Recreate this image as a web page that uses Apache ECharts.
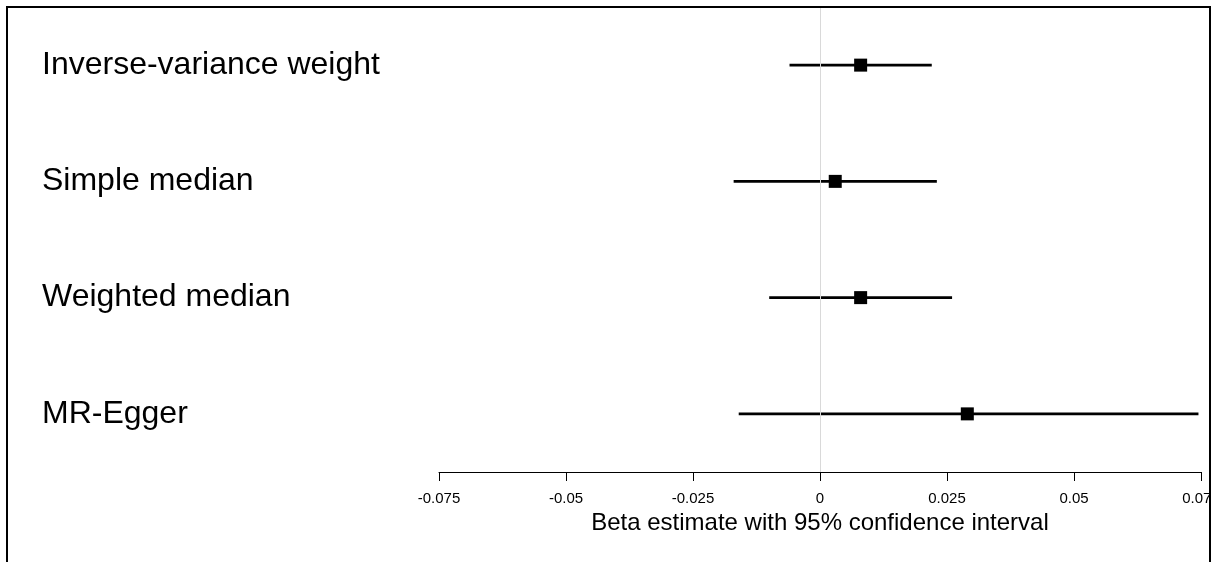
<!DOCTYPE html>
<html><head><meta charset="utf-8">
<script src="https://cdn.jsdelivr.net/npm/echarts@6/dist/echarts.min.js"></script>
<style>html,body{margin:0;padding:0;background:#fff}#c{width:1214px;height:562px}</style>
</head><body><div id="c"></div>
<script>
const methods = ['Inverse-variance weight', 'Simple median', 'Weighted median', 'MR-Egger'];
const beta = [0.008, 0.003, 0.008, 0.029];
const lower = [-0.006, -0.017, -0.010, -0.016];
const upper = [0.022, 0.023, 0.026, 0.0745];
const tickLabels = ['-0.075', '-0.05', '-0.025', '0', '0.025', '0.05', '0.075'];
const axisTitle = 'Beta estimate with 95% confidence interval';

const FONT = "'Liberation Sans', Arial, Helvetica, sans-serif";
const chart = echarts.init(document.getElementById('c'), null, {renderer: 'canvas'});

const ciData = methods.map((m, i) => [lower[i], upper[i], i]);
const ptData = methods.map((m, i) => [beta[i], i]);

chart.setOption({
  animation: false,
  backgroundColor: '#fff',
  textStyle: {fontFamily: FONT},
  grid: {left: 439, right: 13, top: 7, height: 465, containLabel: false, outerBoundsMode: 'none'},
  xAxis: {
    type: 'value', min: -0.075, max: 0.075, interval: 0.025,
    axisLine: {show: true, lineStyle: {color: '#000', width: 1}},
    axisTick: {show: true, length: 9, inside: false, lineStyle: {color: '#000', width: 1}},
    splitLine: {show: false},
    axisLabel: {
      color: '#000', fontSize: 15, fontFamily: FONT, margin: 19, showMaxLabel: true, showMinLabel: true,
      hideOverlap: false,
      formatter: v => tickLabels[Math.round((v + 0.075) / 0.025)]
    },
    name: axisTitle, nameLocation: 'middle', nameGap: 36,
    nameTextStyle: {color: '#000', fontSize: 24, fontFamily: FONT}
  },
  yAxis: {
    type: 'category', data: methods, inverse: true, boundaryGap: true,
    axisLine: {show: false}, axisTick: {show: false}, splitLine: {show: false},
    axisLabel: {color: '#000', fontSize: 32, fontFamily: FONT, align: 'left', margin: 397}
  },
  series: [
    {
      type: 'scatter', data: [], z: 1,
      markLine: {
        silent: true, symbol: 'none', label: {show: false},
        lineStyle: {color: '#d9d9d9', width: 1, type: 'solid'},
        data: [{xAxis: 0}]
      }
    },
    {
      type: 'custom', z: 3, data: ciData,
      encode: {x: [0, 1], y: 2},
      renderItem: (params, api) => {
        const p1 = api.coord([api.value(0), api.value(2)]);
        const p2 = api.coord([api.value(1), api.value(2)]);
        return {type: 'line', shape: {x1: p1[0], y1: p1[1], x2: p2[0], y2: p2[1]},
                style: {stroke: '#000', lineWidth: 2.6}};
      }
    },
    {
      type: 'scatter', z: 4, data: ptData, symbol: 'rect', symbolSize: 13,
      itemStyle: {color: '#000', opacity: 1}
    }
  ],
  graphic: [
    {type: 'rect', z: 100, shape: {x: 1211, y: 0, width: 10, height: 562}, style: {fill: '#fff'}},
    {type: 'rect', z: 101, shape: {x: 7, y: 7, width: 1203, height: 600}, style: {fill: null, stroke: '#000', lineWidth: 2}}
  ]
});
</script>
</body></html>
